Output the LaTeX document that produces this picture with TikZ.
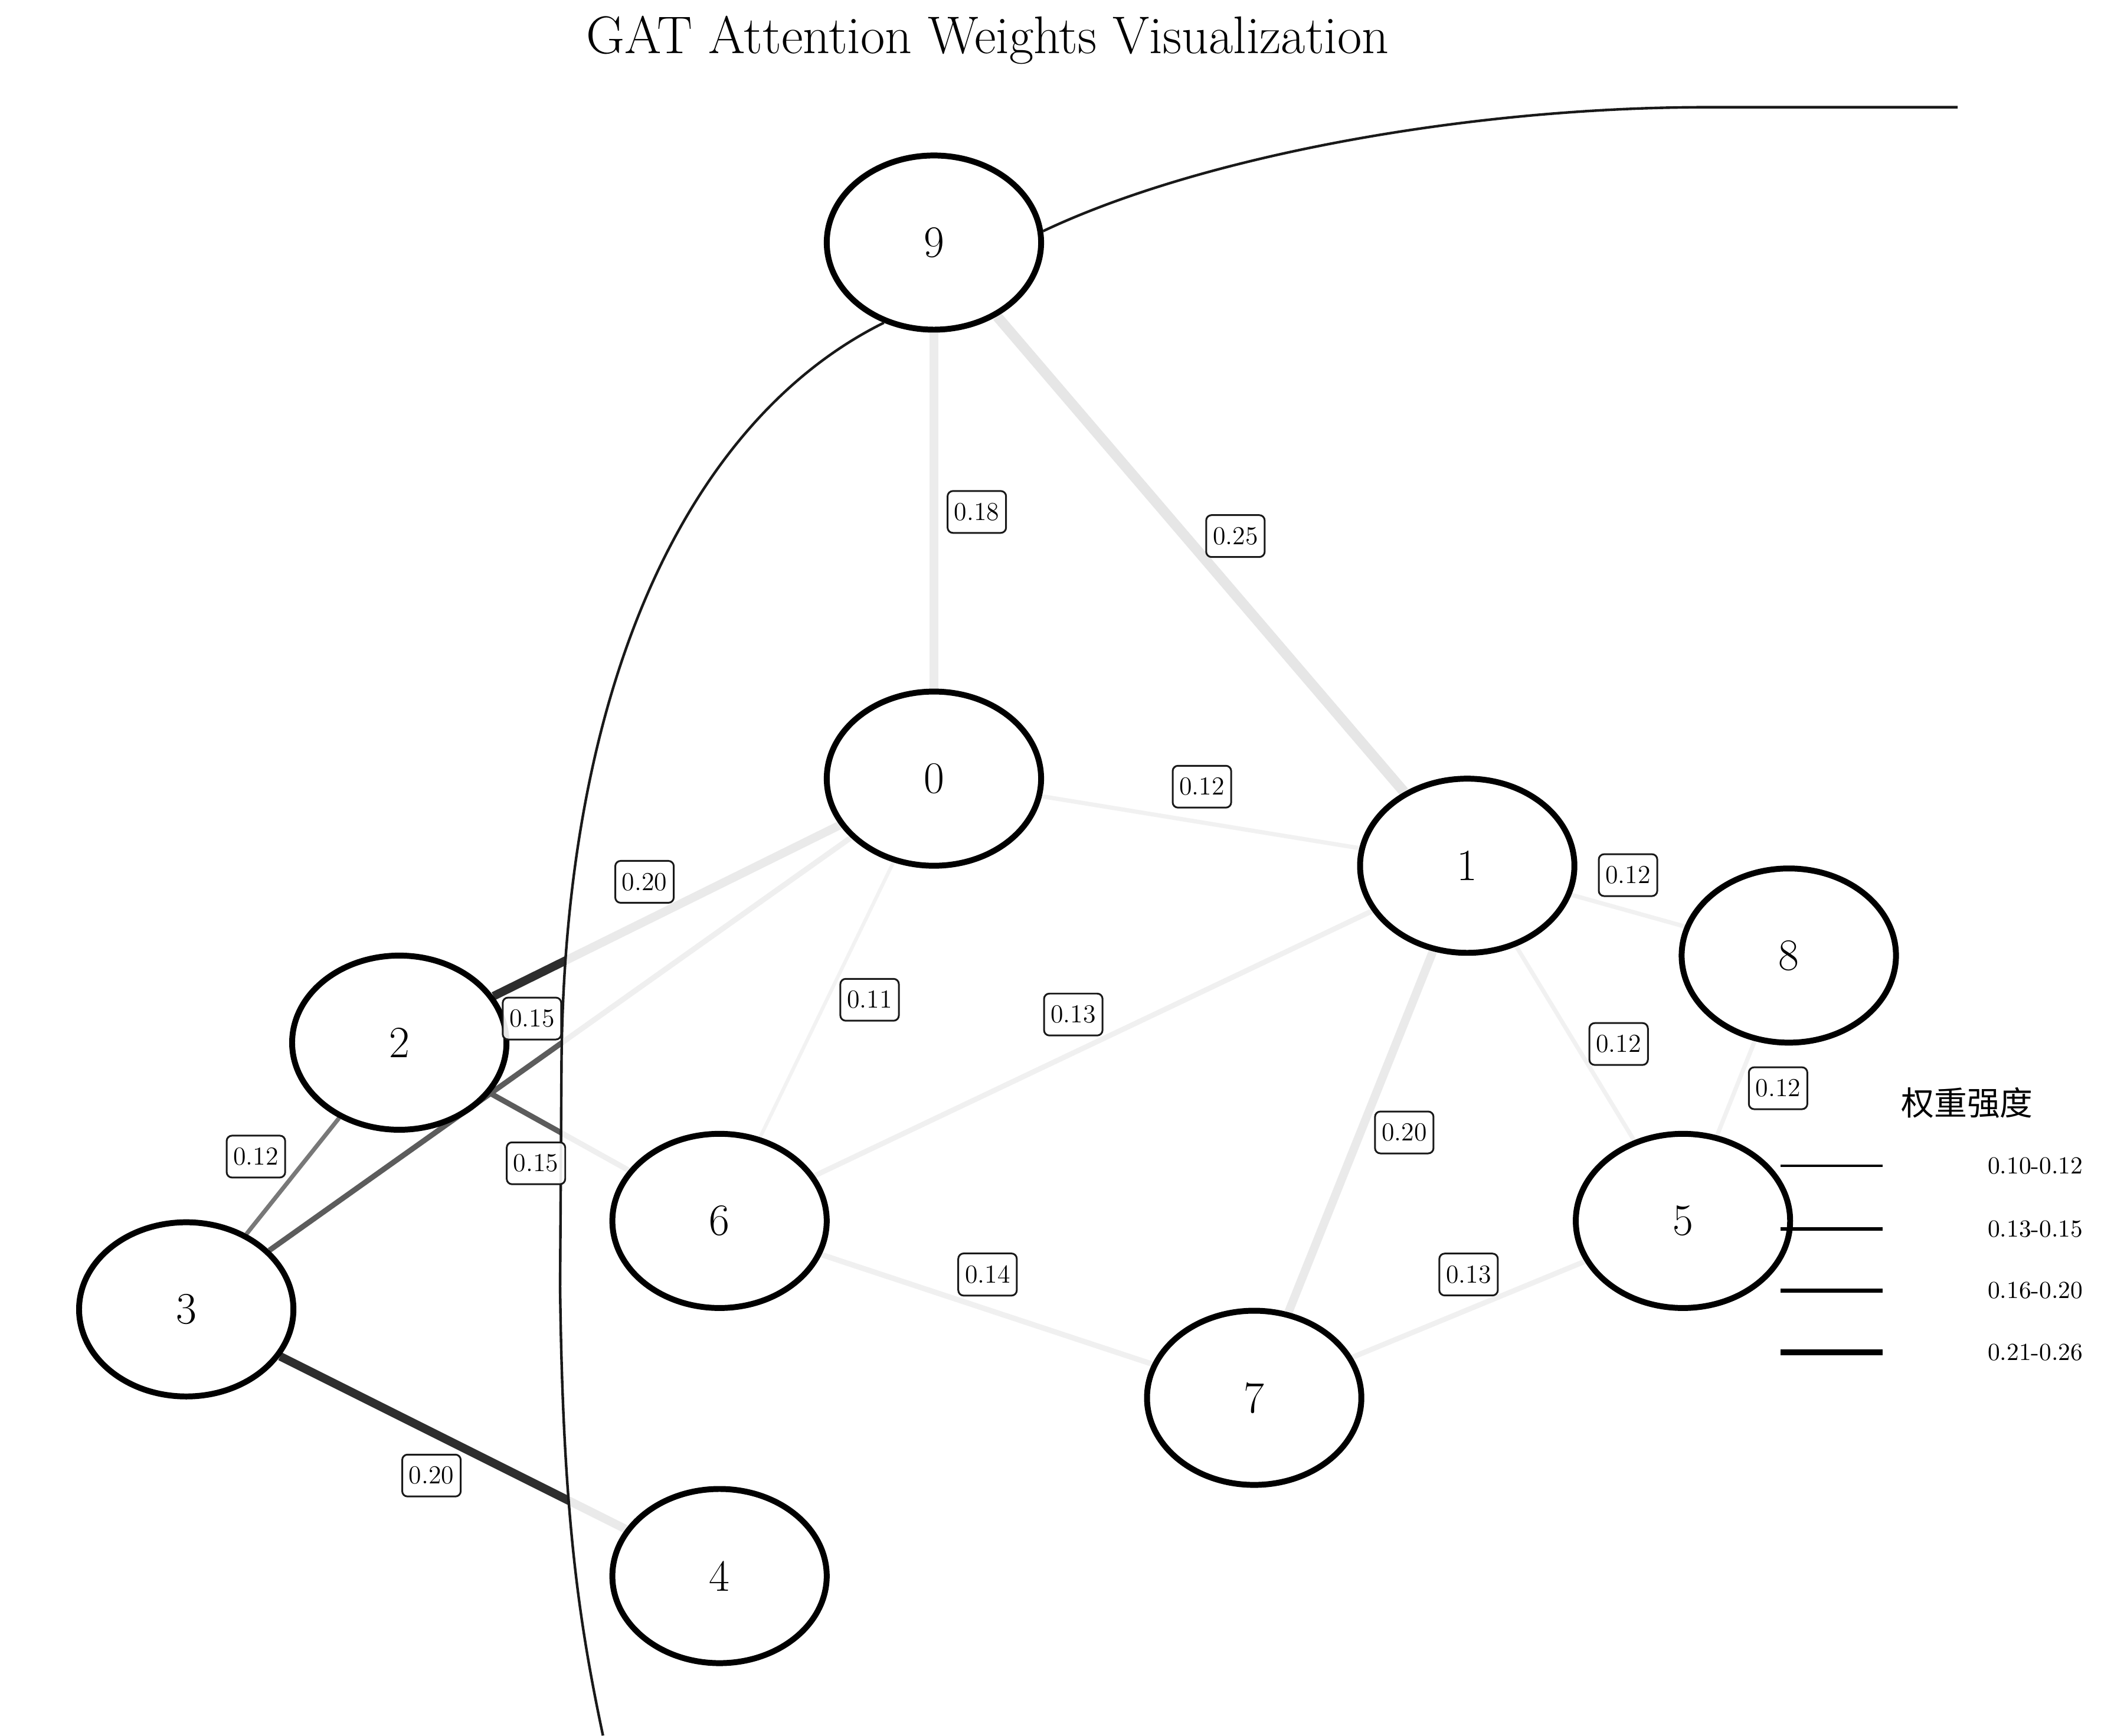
\documentclass[tikz,border=0pt]{standalone}
\usepackage{fontspec}
\newfontfamily\cjk{Noto Sans CJK SC}
\usetikzlibrary{shapes.geometric}

\pgfdeclarelayer{edges}
\pgfdeclarelayer{veil}
\pgfsetlayers{edges,veil,main}

\tikzset{
  gnode/.style={ellipse, draw, line width=2.5pt, minimum width=3.2cm, minimum height=2.6cm,
                inner sep=0pt, font=\fontsize{19}{23}\selectfont},
  wlabel/.style={draw=black!90, line width=0.75pt, rounded corners=0.08cm, fill=white,
                 fill opacity=0.9, text opacity=1, inner xsep=0.1cm, inner ysep=0.18cm,
                 font=\fontsize{11}{13}\selectfont},
  w11/.style={line width=1.5pt, draw=black!50},
  w12/.style={line width=1.8pt, draw=black!53},
  w13/.style={line width=2.2pt, draw=black!57},
  w14/.style={line width=2.3pt, draw=black!60},
  w15/.style={line width=2.3pt, draw=black!64},
  w18/.style={line width=3.6pt, draw=black!75},
  w20/.style={line width=3.6pt, draw=black!82},
  w25/.style={line width=4.4pt, draw=black},
  loopline/.style={draw=black!90, line width=1.1pt},
  legtext/.style={font=\fontsize{10.4}{12}\selectfont}
}

\begin{document}
\begin{tikzpicture}[x=0.02cm, y=-0.02cm]
    \useasboundingbox (0,0) rectangle (1568,1295);

    \node [anchor=base, font=\fontsize{22.5}{27}\selectfont] (title) at (737,40) {GAT Attention Weights Visualization};

    \node [gnode] (n9) at (697,181) {9};
    \node [gnode] (n0) at (697,581) {0};
    \node [gnode] (n1) at (1095,646) {1};
    \node [gnode] (n8) at (1335,713) {8};
    \node [gnode] (n2) at (298,778) {2};
    \node [gnode] (n6) at (537,911) {6};
    \node [gnode] (n5) at (1256,911) {5};
    \node [gnode] (n3) at (139,977) {3};
    \node [gnode] (n7) at (936,1043) {7};
    \node [gnode] (n4) at (537,1176) {4};

    \coordinate (loopa) at (1461,80);
    \coordinate (loopb) at (450,1295);

    \begin{pgfonlayer}{edges}
    \path
      (n9) edge[w18] (n0)
      (n9) edge[w25] (n1)
      (n0) edge[w12] (n1)
      (n2) edge[w20] (n0)
      (n0) edge[w11] (n6)
      (n1) edge[w13] (n6)
      (n1) edge[w12] (n8)
      (n1) edge[w12] (n5)
      (n1) edge[w20] (n7)
      (n8) edge[w12] (n5)
      (n6) edge[w14] (n7)
      (n7) edge[w13] (n5)
      (n3) edge[w15] (n0)
      (n2) edge[w15] (n6)
      (n2) edge[w12] (n3)
      (n3) edge[w20] (n4);
    \end{pgfonlayer}

    % white veil right of the loop
    \begin{pgfonlayer}{veil}
    \fill[white, fill opacity=0.9] (n9.238) .. controls (520,310) and (420,500) .. (419,800)
      -- (418,960) .. controls (420,1130) and (432,1210) .. (loopb)
      -- (1568,1295) -- (1568,80) -- (loopa) -- (1274,80)
      .. controls (1100,80) and (900,115) .. (n9.6) -- cycle;
    \end{pgfonlayer}

    \draw[loopline] (n9.6) .. controls (900,115) and (1100,80) .. (1274,80) -- (loopa);
    \draw[loopline] (n9.238) .. controls (520,310) and (420,500) .. (419,800)
      -- (418,960) .. controls (420,1130) and (432,1210) .. (loopb);

    \node [wlabel] (l90) at (729,382) {0.18};
    \node [wlabel] (l91) at (922,400) {0.25};
    \node [wlabel] (l01) at (897,587) {0.12};
    \node [wlabel] (l20) at (481,658) {0.20};
    \node [wlabel] (l06) at (649,746) {0.11};
    \node [wlabel] (l16) at (801,757) {0.13};
    \node [wlabel] (l18) at (1215,653) {0.12};
    \node [wlabel] (l15) at (1208,779) {0.12};
    \node [wlabel] (l17) at (1048,845) {0.20};
    \node [wlabel] (l85) at (1327,812) {0.12};
    \node [wlabel] (l67) at (737,951) {0.14};
    \node [wlabel] (l75) at (1096,951) {0.13};
    \node [wlabel] (l30) at (397,760) {0.15};
    \node [wlabel] (l26) at (400,868) {0.15};
    \node [wlabel] (l23) at (191,863) {0.12};
    \node [wlabel] (l34) at (322,1101) {0.20};

    % legend
    \node [font=\cjk\fontsize{14}{16}\selectfont] (legtitle) at (1468,823) {权重强度};
    \node [legtext] (leg1) at (1519,870) {0.10-0.12};
    \node [legtext] (leg2) at (1519,917) {0.13-0.15};
    \node [legtext] (leg3) at (1519,963) {0.16-0.20};
    \node [legtext] (leg4) at (1519,1009) {0.21-0.26};
    \draw[line width=1.1pt] (1329,870) -- (1405,870);
    \draw[line width=1.5pt] (1329,917) -- (1405,917);
    \draw[line width=1.8pt] (1329,963) -- (1405,963);
    \draw[line width=2.4pt] (1329,1009) -- (1405,1009);
\end{tikzpicture}
\end{document}
